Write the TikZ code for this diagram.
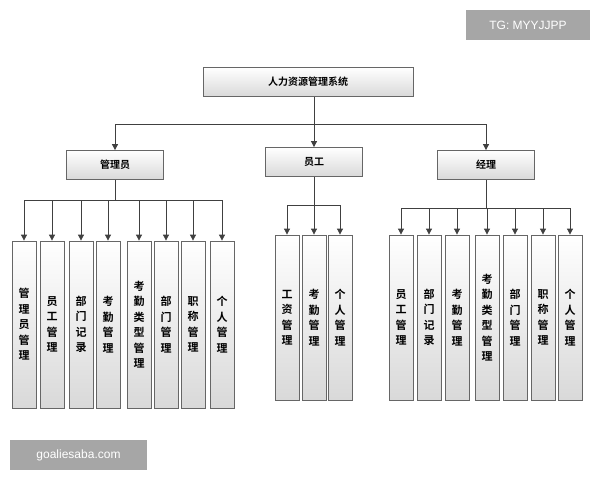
\documentclass[tikz,border=0pt]{standalone}
\usepackage{fontspec}
\setmainfont{Liberation Sans}
\newfontfamily\cjk{Noto Sans CJK SC}[BoldFont={Noto Sans CJK SC Bold}]
\usetikzlibrary{arrows.meta}
\begin{document}
\begin{tikzpicture}[x=1pt,y=-1pt,
  bx/.style={draw=black!60,line width=0.8pt,top color=white,bottom color=black!15,inner sep=0pt,font=\cjk\bfseries\normalsize},
  leaf/.style={bx,minimum width=24pt,minimum height=165pt,align=center,font=\cjk\bfseries\fontsize{11}{15.5}\selectfont},
  ar/.style={draw=black!75,line width=0.8pt,-{Triangle[length=6pt,width=6pt]}},
  ln/.style={draw=black!75,line width=0.8pt},
  wm/.style={fill=black!35,text=white,font=\large,inner sep=0pt}]
\useasboundingbox (0,0) rectangle (600,480);
\node[wm,minimum width=124pt,minimum height=30pt] (tg) at (528,25) {TG: MYYJJPP};
\node[wm,minimum width=137pt,minimum height=30pt] (ga) at (78.5,455) {goaliesaba.com};
\node[bx,minimum width=210pt,minimum height=29pt] (root) at (308,82) {人力资源管理系统};
\node[bx,minimum width=97pt,minimum height=29pt] (a) at (115,165) {管理员};
\node[bx,minimum width=97pt,minimum height=29pt] (e) at (314,162) {员工};
\node[bx,minimum width=97pt,minimum height=29pt] (m) at (486,165) {经理};
\coordinate (r0) at (314,124);
\draw[ln] (root.south -| r0) -- (r0);
\draw[ar] (r0) -| (a.north);
\draw[ar] (r0) -| (m.north);
\draw[ar] (r0) -- (e.north);
% admin
\coordinate (a0) at (115,200);
\draw[ln] (a.south) -- (a0);
\foreach \i/\x/\t in {1/24/管\\理\\员\\管\\理, 2/52/员\\工\\管\\理, 3/81/部\\门\\记\\录, 4/108/考\\勤\\管\\理, 5/139/考\\勤\\类\\型\\管\\理, 6/166/部\\门\\管\\理, 7/193/职\\称\\管\\理, 8/222/个\\人\\管\\理}{
  \node[leaf,minimum height=167pt] (a\i) at (\x,324.5) {\t};
  \draw[ar] (a0) -| (a\i.north);
}
% employee
\coordinate (e0) at (314,205);
\draw[ln] (e.south) -- (e0);
\foreach \i/\x/\t in {1/287/工\\资\\管\\理, 2/314/考\\勤\\管\\理, 3/340/个\\人\\管\\理}{
  \node[leaf] (e\i) at (\x,317.5) {\t};
  \draw[ar] (e0) -| (e\i.north);
}
% manager
\coordinate (m0) at (486,208);
\draw[ln] (m.south) -- (m0);
\foreach \i/\x/\t in {1/401/员\\工\\管\\理, 2/429/部\\门\\记\\录, 3/457/考\\勤\\管\\理, 4/487/考\\勤\\类\\型\\管\\理, 5/515/部\\门\\管\\理, 6/543/职\\称\\管\\理, 7/570/个\\人\\管\\理}{
  \node[leaf] (m\i) at (\x,317.5) {\t};
  \draw[ar] (m0) -| (m\i.north);
}
\end{tikzpicture}
\end{document}
